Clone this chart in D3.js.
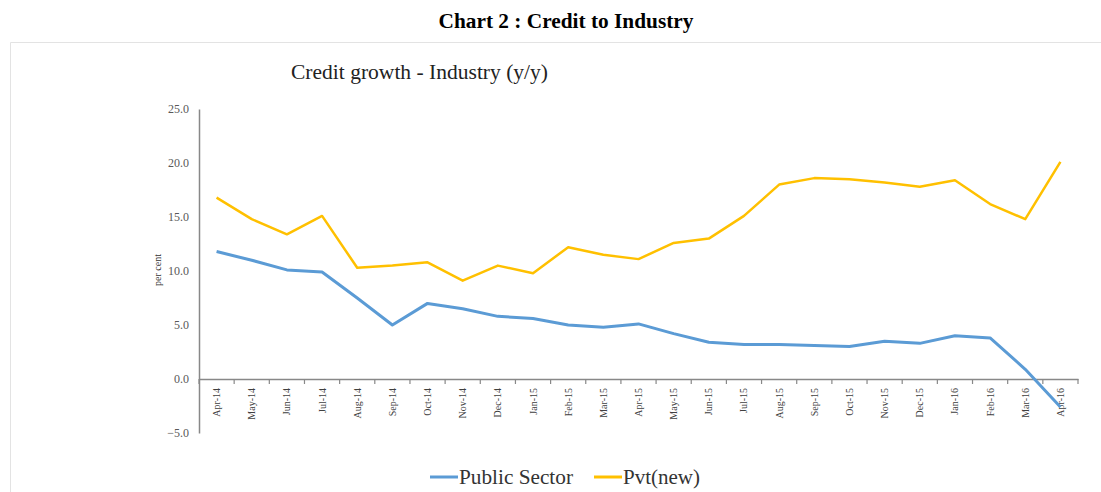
<!DOCTYPE html>
<html>
<head>
<meta charset="utf-8">
<script src="https://cdn.jsdelivr.net/npm/d3@7"></script>
<style>
  html, body { margin: 0; padding: 0; background: #fff; }
  svg { display: block; }
  text { font-family: "Liberation Serif", "Times New Roman", serif; }
</style>
</head>
<body>
<svg id="chart" width="1101" height="492"></svg>
<script>
const months = ["Apr-14","May-14","Jun-14","Jul-14","Aug-14","Sep-14","Oct-14","Nov-14","Dec-14","Jan-15","Feb-15","Mar-15","Apr-15","May-15","Jun-15","Jul-15","Aug-15","Sep-15","Oct-15","Nov-15","Dec-15","Jan-16","Feb-16","Mar-16","Apr-16"];
const publicSector = [11.8, 11.0, 10.1, 9.9, 7.5, 5.0, 7.0, 6.5, 5.8, 5.6, 5.0, 4.8, 5.1, 4.2, 3.4, 3.2, 3.2, 3.1, 3.0, 3.5, 3.3, 4.0, 3.8, 0.9, -2.6];
const pvtNew = [16.8, 14.8, 13.4, 15.1, 10.3, 10.5, 10.8, 9.1, 10.5, 9.8, 12.2, 11.5, 11.1, 12.6, 13.0, 15.1, 18.0, 18.6, 18.5, 18.2, 17.8, 18.4, 16.2, 14.8, 20.1];
const yTicks = [-5, 0, 5, 10, 15, 20, 25];
const seriesNames = ["Public Sector", "Pvt(new)"];
const seriesColors = ["#5B9BD5", "#FFC000"];

const svg = d3.select("#chart");

// outer frame
svg.append("path")
  .attr("d", "M10.5,492 L10.5,42.5 L1101,42.5")
  .attr("fill", "none").attr("stroke", "#e3e3e3").attr("stroke-width", 1);

svg.append("text").attr("x", 566).attr("y", 28)
  .attr("text-anchor", "middle").attr("font-weight", "bold")
  .attr("font-size", 20).attr("fill", "#000")
  .attr("textLength", 255).attr("lengthAdjust", "spacingAndGlyphs")
  .text("Chart 2 : Credit to Industry");

svg.append("text").attr("x", 291).attr("y", 79)
  .attr("font-size", 21).attr("fill", "#222")
  .attr("textLength", 257).attr("lengthAdjust", "spacingAndGlyphs")
  .text("Credit growth - Industry (y/y)");

const x = d3.scaleBand().domain(months).range([199, 1078]).padding(0);
const y = d3.scaleLinear().domain([-5, 25]).range([433, 109]);

// y axis
const yAxis = d3.axisLeft(y).tickValues(yTicks).tickSize(0).tickPadding(10)
  .tickFormat(d3.format(".1f"));
const gy = svg.append("g").attr("transform", "translate(199,0)").call(yAxis);
gy.select(".domain").attr("stroke", "#888").attr("stroke-width", 1.5);
gy.selectAll("text").attr("font-size", 12).attr("fill", "#595959")
  .attr("font-family", "Liberation Serif, serif");

svg.append("text")
  .attr("transform", "translate(161,270) rotate(-90)")
  .attr("text-anchor", "middle").attr("font-size", 10).attr("fill", "#333")
  .text("per cent");

// x axis at zero
const xAxis = d3.axisBottom(x).tickSize(0).tickPadding(0);
const gx = svg.append("g").attr("transform", `translate(0,${y(0)})`).call(xAxis);
gx.select(".domain").attr("stroke", "#888").attr("stroke-width", 1.5);
gx.selectAll(".tick text")
  .attr("font-size", 10).attr("fill", "#404040")
  .attr("font-family", "Liberation Serif, serif")
  .attr("text-anchor", "end")
  .attr("dy", "0.35em")
  .attr("transform", "translate(0,9) rotate(-90)")
  .attr("x", 0).attr("y", 0);
// boundary tick marks
svg.append("g").selectAll("line")
  .data(months.concat(["__end"]))
  .join("line")
  .attr("x1", (d, i) => x.range()[0] + i * x.bandwidth())
  .attr("x2", (d, i) => x.range()[0] + i * x.bandwidth())
  .attr("y1", y(0)).attr("y2", y(0) + 5)
  .attr("stroke", "#888").attr("stroke-width", 1.2);

const line = d3.line()
  .x((d, i) => x(months[i]) + x.bandwidth() / 2)
  .y(d => y(d));

[publicSector, pvtNew].forEach((vals, k) => {
  svg.append("path").datum(vals)
    .attr("d", line)
    .attr("fill", "none")
    .attr("stroke", seriesColors[k])
    .attr("stroke-width", k === 0 ? 3 : 2.5)
    .attr("stroke-linejoin", "round");
});

// legend
const legendX = [430, 594];
const legendLen = [114, 77];
seriesNames.forEach((name, k) => {
  svg.append("line")
    .attr("x1", legendX[k]).attr("x2", legendX[k] + 28)
    .attr("y1", 477).attr("y2", 477)
    .attr("stroke", seriesColors[k]).attr("stroke-width", 3);
  svg.append("text")
    .attr("x", legendX[k] + 29).attr("y", 484)
    .attr("font-size", 20).attr("fill", "#333")
    .attr("textLength", legendLen[k]).attr("lengthAdjust", "spacingAndGlyphs")
    .text(name);
});
</script>
</body>
</html>
